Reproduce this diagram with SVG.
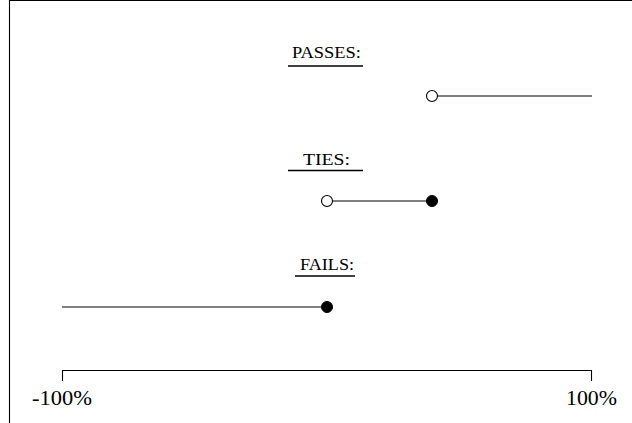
<svg xmlns="http://www.w3.org/2000/svg" width="632" height="423" viewBox="0 0 632 423">
<style>
.ln{stroke:#000;stroke-width:1.1;fill:none}
.ul{stroke:#000;stroke-width:1.3}
.open{fill:#fff;stroke:#000;stroke-width:1.1}
.fill{fill:#000;stroke:#000;stroke-width:1}
.hd{font-family:"Liberation Serif",serif;font-size:16px;text-anchor:middle;fill:#000}
.ax{font-family:"Liberation Serif",serif;font-size:21px;text-anchor:middle;fill:#000}
</style>
<rect width="632" height="423" fill="#fff"/>
<g id="frame">
<line class="ln" x1="9.5" y1="0" x2="9.5" y2="423"/>
<line class="ln" x1="9" y1="0.5" x2="632" y2="0.5"/>
</g>
<g id="passes">
<text class="hd" x="326.5" y="58" textLength="69" lengthAdjust="spacingAndGlyphs">PASSES:</text>
<line class="ul" x1="288" y1="66" x2="363" y2="66"/>
</g>
<g id="ties">
<text class="hd" x="326.5" y="165" textLength="47" lengthAdjust="spacingAndGlyphs">TIES:</text>
<line class="ul" x1="288" y1="170.5" x2="363" y2="170.5"/>
</g>
<g id="fails">
<text class="hd" x="327" y="269.5" textLength="54" lengthAdjust="spacingAndGlyphs">FAILS:</text>
<line class="ul" x1="295" y1="276" x2="355" y2="276"/>
</g>
<g id="connectors">
<line class="ln" x1="437.5" y1="96" x2="592" y2="96"/>
<line class="ln" x1="332.5" y1="201" x2="432" y2="201"/>
<line class="ln" x1="62" y1="307" x2="327" y2="307"/>
</g>
<g id="points">
<circle class="open" cx="432" cy="96" r="5.5"/>
<circle class="open" cx="327" cy="201" r="5.5"/>
<circle class="fill" cx="432" cy="201" r="5.5"/>
<circle class="fill" cx="327" cy="307" r="5.5"/>
</g>
<g id="axis">
<polyline class="ln" points="62.5,381 62.5,370.5 591.5,370.5 591.5,381"/>
<text class="ax" x="62" y="405" textLength="60" lengthAdjust="spacingAndGlyphs">-100%</text>
<text class="ax" x="591.5" y="405" textLength="51" lengthAdjust="spacingAndGlyphs">100%</text>
</g>
</svg>
